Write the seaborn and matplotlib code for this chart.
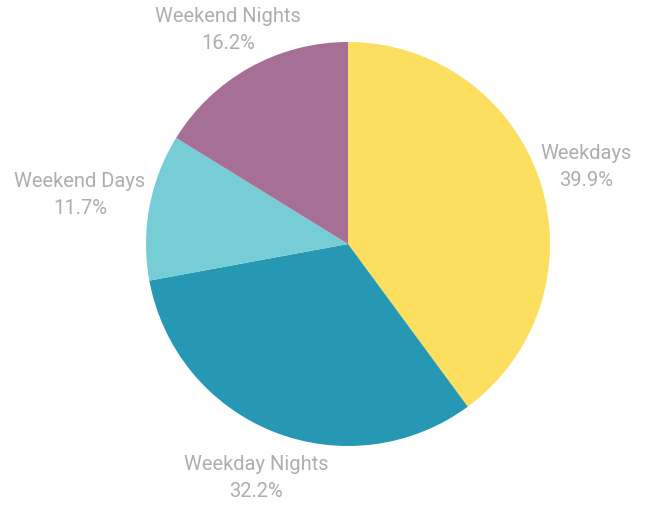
import numpy as np
import matplotlib.pyplot as plt
import seaborn as sns

categories = ['Weekdays', 'Weekday Nights', 'Weekend Days', 'Weekend Nights']
shares = [39.9, 32.2, 11.7, 16.2]
colors = ['#FCDF5E', '#2698B4', '#76CDD6', '#A67096']
label_dist = [1.24, 1.24, 1.35, 1.22]

sns.set_theme(style='white')
plt.rcParams['font.family'] = ['Roboto', 'DejaVu Sans']

fig = plt.figure(figsize=(6.5, 5.06), dpi=100)
ax = fig.add_axes([0, 0, 1, 1])

palette = sns.color_palette(colors)
wedges, _ = ax.pie(
    shares, colors=palette, startangle=90, counterclock=False, radius=1.0,
    wedgeprops={'linewidth': 0},
)

for w, name, val, d in zip(wedges, categories, shares, label_dist):
    mid = np.deg2rad((w.theta1 + w.theta2) / 2)
    ax.text(d * np.cos(mid), d * np.sin(mid), f'{name}\n{val:.1f}%',
            ha='center', va='center', fontsize=14.5, color='#AEAEAE',
            linespacing=1.55)

# place the pie: center at (348, 245) px, radius 202 px
r = 202.0
ax.set_xlim(-348 / r, (650 - 348) / r)
ax.set_ylim(-(506 - 245) / r, 245 / r)
ax.set_aspect('auto')
ax.axis('off')

fig.savefig('out.png', dpi=100, facecolor='white')
